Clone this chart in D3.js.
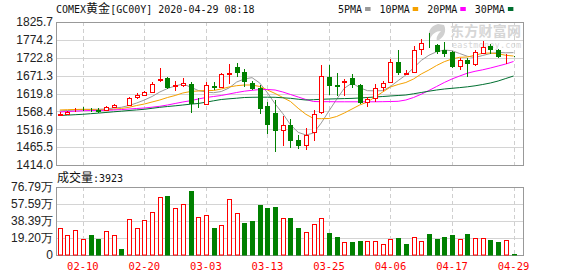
<!DOCTYPE html>
<html>
<head>
<meta charset="utf-8">
<script src="https://cdn.jsdelivr.net/npm/d3@7"></script>
<style>
  html, body { margin: 0; padding: 0; background: #fff; }
  svg { display: block; }
  .mono { font-family: "DejaVu Sans Mono", "Liberation Mono", monospace; }
  .cjk { font-family: "Noto Sans CJK SC", sans-serif; }
  .axis { font-family: "Liberation Sans", Arial, sans-serif; font-size: 12px; fill: #222; }
</style>
</head>
<body>
<div id="chart"></div>
<script>
// ---------- data ----------
const dates = [
  '02-05','02-06','02-07','02-10','02-11','02-12','02-13','02-14','02-17','02-18',
  '02-19','02-20','02-21','02-24','02-25','02-26','02-27','02-28','03-02','03-03',
  '03-04','03-05','03-06','03-09','03-10','03-11','03-12','03-13','03-16','03-17',
  '03-18','03-19','03-20','03-23','03-24','03-25','03-26','03-27','03-30','03-31',
  '04-01','04-02','04-03','04-06','04-07','04-08','04-09','04-13','04-14','04-15',
  '04-16','04-17','04-20','04-21','04-22','04-23','04-24','04-27','04-28','04-29'
];
const open = [
  1560, 1562, 1572, 1576.5, 1575, 1573.5, 1573, 1582, 1587.5, 1587,
  1609, 1616, 1625, 1660, 1665, 1642, 1644, 1648, 1593.5, 1590,
  1641, 1639.5, 1676, 1697, 1683, 1651, 1637, 1584, 1565, 1514,
  1528, 1486, 1472, 1508, 1565, 1667, 1645, 1653, 1664, 1644,
  1594, 1606, 1639, 1651, 1711, 1678, 1682, 1747, 1763, 1760,
  1746, 1738, 1698, 1716, 1705, 1738, 1756, 1745, 1729.5, 1727
];
const high = [
  1568, 1570, 1578, 1581, 1579, 1578, 1584, 1591, 1588, 1609,
  1620, 1627, 1654, 1694, 1668, 1656, 1664, 1654, 1606, 1654,
  1654, 1679, 1704, 1709, 1689, 1657, 1645, 1596, 1601, 1556,
  1546, 1500, 1520, 1571, 1702, 1703, 1678, 1661, 1676, 1648,
  1611, 1648, 1657, 1719, 1745, 1687, 1757, 1777, 1795, 1763,
  1769, 1741, 1722, 1721, 1744, 1771, 1763, 1747, 1735, 1728
];
const low = [
  1554, 1560, 1568, 1569, 1566, 1564, 1571, 1579, 1586, 1585,
  1603, 1614, 1624, 1654, 1632, 1628, 1640, 1565, 1579, 1588,
  1630, 1638, 1647, 1668, 1638, 1630, 1562, 1503, 1450, 1469,
  1462, 1459, 1457, 1483, 1562, 1616, 1614, 1614, 1637, 1591,
  1580, 1595, 1627, 1649, 1673, 1672, 1681, 1730, 1750, 1733,
  1725, 1694, 1688, 1668, 1699, 1734, 1735, 1721, 1706, 1725
];
const close = [
  1562, 1567, 1573, 1575.5, 1574, 1572, 1581, 1588, 1586.5, 1606,
  1616, 1624, 1648, 1662, 1640, 1644, 1649, 1592, 1593, 1644,
  1638, 1676, 1678, 1683, 1656, 1638, 1579, 1531, 1515, 1529,
  1486, 1472, 1500, 1560, 1670, 1644, 1643, 1655, 1648, 1596,
  1604, 1635, 1651, 1710, 1683, 1680, 1744, 1764, 1762, 1744,
  1736, 1697, 1716, 1706, 1739, 1754, 1748, 1729, 1730.5, 1726
];
// volume in 万 (10k lots); last day 3923 lots
const volume = [
  30.2, 22.4, 28.3, 18.2, 22.7, 18.2, 27.2, 22.4, 7.0, 40.3,
  30.2, 39.2, 48.1, 66.0, 66.4, 52.6, 57.4, 72.0, 43.2, 44.8,
  30.6, 33.6, 62.7, 47.0, 36.2, 38.1, 56.3, 52.9, 54.1, 41.4,
  41.8, 30.6, 26.1, 34.7, 41.4, 25.0, 20.5, 14.6, 14.9, 16.0,
  16.0, 16.0, 12.3, 18.2, 19.4, 12.6, 20.1, 16.0, 23.8, 18.2,
  20.5, 22.4, 17.9, 23.8, 19.0, 19.0, 17.1, 14.9, 17.1, 0.3923
];
const ma5 = [
  1569.5, 1570.9, 1572.4, 1573.8, 1574.4, 1574.4, 1575.3, 1578.1, 1580.1, 1585.3,
  1592.5, 1601.1, 1611.2, 1624.1, 1634.2, 1641.4, 1647.2, 1638.6, 1628.5, 1624.1,
  1622.1, 1625.6, 1635.6, 1652.9, 1661.6, 1665.5, 1650.0, 1622.0, 1590.0, 1562.0,
  1530.0, 1508.0, 1500.4, 1506.0, 1535.0, 1569.5, 1603.0, 1635.0, 1650.0, 1636.5,
  1628.0, 1627.5, 1628.0, 1640.0, 1657.0, 1673.1, 1693.3, 1715.0, 1730.0, 1740.0,
  1745.0, 1743.0, 1735.0, 1727.0, 1723.5, 1729.3, 1735.0, 1738.0, 1737.0, 1737.5
];
const ma10 = [
  1572.4, 1573.2, 1573.8, 1574.4, 1573.8, 1572.4, 1572.9, 1574.4, 1576.7, 1580.1,
  1585.3, 1589.6, 1595.4, 1601.1, 1608.3, 1614.1, 1621.3, 1625.6, 1627.1, 1628.5,
  1628.5, 1632.8, 1638.6, 1642.3, 1644.3, 1644.3, 1640.0, 1629.9, 1619.9, 1608.3,
  1596.8, 1577.3, 1560.0, 1547.9, 1547.3, 1547.9, 1553.6, 1563.7, 1575.2, 1586.7,
  1595.4, 1609.8, 1624.2, 1638.6, 1645.8, 1651.5, 1661.6, 1676.0, 1687.5, 1700.5,
  1711.4, 1719.2, 1724.1, 1724.9, 1730.1, 1735.6, 1736.5, 1734.2, 1729.8, 1727.8
];
const ma20 = [
  1566.6, 1568.0, 1568.9, 1570.3, 1570.9, 1571.2, 1571.5, 1572.4, 1573.5, 1575.2,
  1576.7, 1578.1, 1580.4, 1583.0, 1586.7, 1591.1, 1595.4, 1599.1, 1604.0, 1608.3,
  1611.2, 1614.1, 1618.4, 1622.7, 1626.5, 1629.1, 1631.1, 1631.4, 1629.9, 1624.2,
  1617.0, 1609.8, 1602.6, 1596.8, 1596.3, 1596.3, 1596.0, 1596.0, 1596.0, 1596.0,
  1596.0, 1596.0, 1596.3, 1596.8, 1597.4, 1601.1, 1608.3, 1617.8, 1628.5, 1640.0,
  1651.5, 1661.6, 1670.2, 1678.3, 1683.8, 1688.1, 1693.3, 1699.0, 1704.8, 1712.0
];
const ma30 = [
  1556.5, 1557.7, 1558.8, 1560.0, 1561.7, 1563.4, 1565.2, 1567.2, 1568.9, 1570.9,
  1572.6, 1574.4, 1577.2, 1580.1, 1582.4, 1584.4, 1586.7, 1589.1, 1591.1, 1594.8,
  1598.8, 1602.6, 1604.6, 1606.3, 1608.3, 1608.9, 1609.2, 1609.2, 1608.9, 1607.5,
  1606.0, 1603.4, 1601.1, 1602.0, 1603.2, 1604.0, 1604.6, 1605.2, 1605.8, 1606.9,
  1608.3, 1609.8, 1611.2, 1612.7, 1614.1, 1615.5, 1619.0, 1622.7, 1626.5, 1629.9,
  1632.8, 1634.8, 1636.8, 1639.1, 1642.0, 1645.8, 1650.1, 1655.8, 1663.0, 1670.2
];
const priceTicks = [1414.0, 1465.5, 1516.9, 1568.4, 1619.8, 1671.3, 1722.8, 1774.2, 1825.7];
const volumeTicks = [0, 19.20, 38.39, 57.59, 76.79];
const dateTicks = ['02-10', '02-20', '03-03', '03-13', '03-25', '04-06', '04-17', '04-29'];
const maNames = ['5PMA', '10PMA', '20PMA', '30PMA'];
const title = ['COMEX', '黄金', '[GC00Y] 2020-04-29 08:18'];
const lastVolume = 3923;

// ---------- layout ----------
const W = 578, H = 276;
const left = 56, right = 523;
const pTop = 22, pBottom = 165;
const vTop = 187, vBottom = 255;
const RED = '#ff0000', GREEN = '#008000';
const maColors = ['#999999', '#f5a100', '#ff00ff', '#006f30'];

const svg = d3.select('#chart').append('svg')
  .attr('width', W).attr('height', H);

const x = d3.scalePoint().domain(dates).range([59.8, 513.5]);
const y = d3.scaleLinear().domain([priceTicks[0], priceTicks[priceTicks.length - 1]]).range([pBottom, pTop]);
const yv = d3.scaleLinear().domain([0, volumeTicks[volumeTicks.length - 1]]).range([vBottom, vTop]);
const px = d => Math.round(x(d)) + 0.5;

// ---------- grid ----------
const grid = svg.append('g');
grid.selectAll('.hp').data(priceTicks.slice(1, -1)).join('line')
  .attr('x1', left).attr('x2', right)
  .attr('y1', d => Math.round(y(d)) + 0.5).attr('y2', d => Math.round(y(d)) + 0.5)
  .attr('stroke', '#d4d4d4');
grid.selectAll('.hv').data(volumeTicks.slice(1, -1)).join('line')
  .attr('x1', left).attr('x2', right)
  .attr('y1', d => Math.round(yv(d)) + 0.5).attr('y2', d => Math.round(yv(d)) + 0.5)
  .attr('stroke', '#d4d4d4');
[[pTop, pBottom], [vTop, vBottom]].forEach(([t, b]) => {
  grid.selectAll(null).data(dateTicks).join('line')
    .attr('x1', px).attr('x2', px)
    .attr('y1', t).attr('y2', b)
    .attr('stroke', '#cfcfcf')
    .attr('stroke-dasharray', '4,3');
});

// ---------- watermark ----------
const wm = svg.append('g').attr('fill', '#d6d6d6');
wm.append('path')
  .attr('d', 'M438,24 C430,26 427,33 430,39 C432,34 436,31 441,31 C437,35 436,38 437,41 C444,38 447,31 444,25 Z')
  .attr('fill', '#d0d0d0');
wm.append('text').attr('class', 'cjk')
  .attr('x', 450).attr('y', 36).attr('font-size', 14).attr('font-weight', 'bold')
  .attr('textLength', 71).text('东方财富网');
wm.append('text').attr('class', 'mono')
  .attr('x', 452).attr('y', 47.5).attr('font-size', 8.5)
  .attr('textLength', 69).text('eastmoney.com');

// ---------- frames ----------
svg.append('rect')
  .attr('x', left + 0.5).attr('y', pTop + 0.5)
  .attr('width', right - left).attr('height', pBottom - pTop)
  .attr('fill', 'none').attr('stroke', '#999');
svg.append('rect')
  .attr('x', left + 0.5).attr('y', vTop + 0.5)
  .attr('width', right - left).attr('height', vBottom - vTop)
  .attr('fill', 'none').attr('stroke', '#999');

// ---------- moving averages ----------
const maLayer = svg.append('g').attr('fill', 'none').attr('stroke-width', 1);
[ma5, ma10, ma20, ma30].forEach((series, k) => {
  maLayer.append('path')
    .datum(series)
    .attr('stroke', maColors[k])
    .attr('d', d3.line().x((d, i) => x(dates[i])).y(d => y(d)));
});

// ---------- candles ----------
const rows = dates.map((d, i) => ({
  date: d, o: open[i], h: high[i], l: low[i], c: close[i], v: volume[i],
  up: close[i] > open[i] || (close[i] === open[i] && (i === 0 || close[i] >= close[i - 1])),
  volUp: i === 0 || close[i] >= close[i - 1]
}));

const candle = svg.append('g').selectAll('g').data(rows).join('g');
candle.append('line')
  .attr('x1', d => px(d.date)).attr('x2', d => px(d.date))
  .attr('y1', d => Math.round(y(d.h))).attr('y2', d => Math.round(y(d.l)))
  .attr('stroke', d => d.up ? RED : GREEN);
candle.append('rect')
  .attr('x', d => px(d.date) - 2)
  .attr('y', d => Math.round(y(Math.max(d.o, d.c))) + 0.5)
  .attr('width', 4)
  .attr('height', d => Math.max(0, Math.round(Math.abs(y(d.o) - y(d.c)))))
  .attr('fill', d => d.up ? '#fff' : GREEN)
  .attr('stroke', d => d.up ? RED : GREEN);

// ---------- volume ----------
svg.append('g').selectAll('rect').data(rows).join('rect')
  .attr('x', d => px(d.date) - 2)
  .attr('y', d => Math.min(vBottom - 1, Math.round(yv(d.v))) + 0.5)
  .attr('width', 4)
  .attr('height', d => vBottom - Math.min(vBottom - 1, Math.round(yv(d.v))) - 0.5)
  .attr('fill', d => d.volUp ? '#fff' : GREEN)
  .attr('stroke', d => d.volUp ? RED : GREEN);

// ---------- axes labels ----------
svg.append('g').selectAll('text').data(priceTicks).join('text')
  .attr('class', 'axis')
  .attr('x', 53).attr('y', d => y(d)).attr('dy', '0.36em')
  .attr('text-anchor', 'end')
  .text(d => d.toFixed(1));

svg.append('g').selectAll('text').data(volumeTicks).join('text')
  .attr('class', 'axis')
  .attr('x', 53).attr('y', d => yv(d)).attr('dy', '0.36em')
  .attr('text-anchor', 'end')
  .text(d => d === 0 ? '0' : d.toFixed(2) + '万');

svg.append('g').selectAll('text').data(dateTicks).join('text')
  .attr('class', 'mono')
  .attr('x', d => x(d)).attr('y', 270)
  .attr('text-anchor', 'middle')
  .attr('font-size', 10.5)
  .attr('fill', RED)
  .text(d => d);

// ---------- title, legend ----------
const t = svg.append('text').attr('x', 56).attr('y', 13).attr('fill', '#111');
title.forEach((s, k) => {
  t.append('tspan')
    .attr('class', k === 1 ? 'cjk' : 'mono')
    .attr('font-size', k === 1 ? 12 : 10)
    .text(s);
});

const vt = svg.append('text').attr('x', 57).attr('y', 182).attr('fill', '#111');
vt.append('tspan').attr('class', 'cjk').attr('font-size', 12).text('成交量');
vt.append('tspan').attr('class', 'mono').attr('font-size', 10).text(':' + lastVolume);

let lx = 338;
maNames.forEach((name, k) => {
  svg.append('text').attr('class', 'mono')
    .attr('x', lx).attr('y', 13).attr('font-size', 10).attr('fill', '#111')
    .text(name);
  lx += name.length * 6.02 + 3;
  svg.append('rect')
    .attr('x', lx).attr('y', 7).attr('width', 5.5).attr('height', 4)
    .attr('fill', maColors[k]);
  lx += 5.5 + 9;
});
</script>
</body>
</html>
